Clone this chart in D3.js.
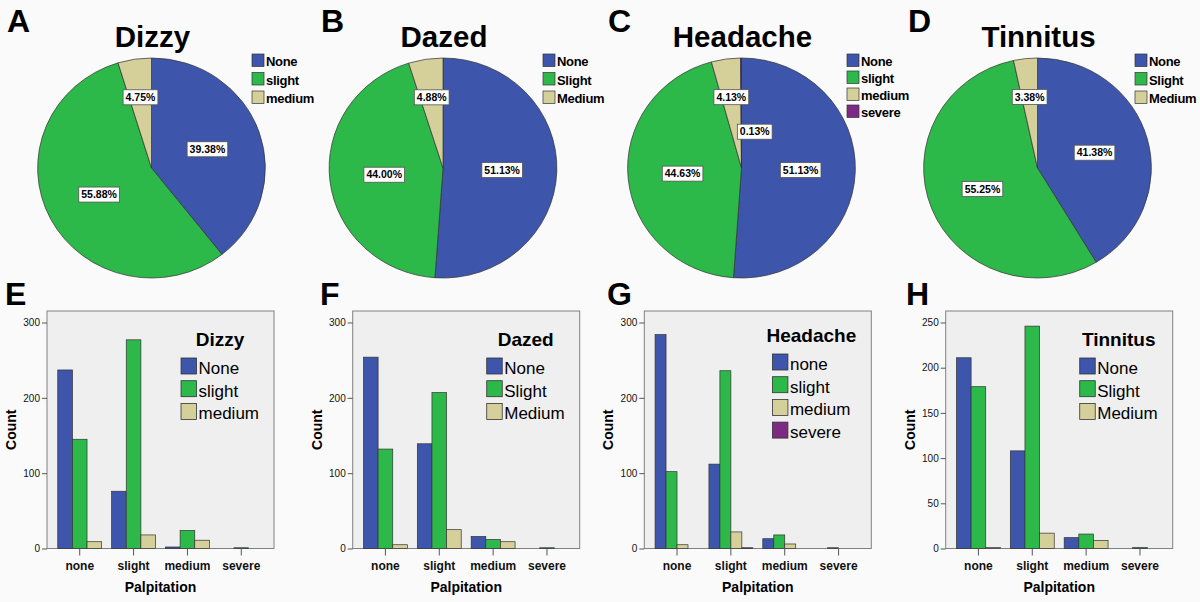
<!DOCTYPE html>
<html>
<head>
<meta charset="utf-8">
<script src="https://cdn.jsdelivr.net/npm/d3@7"></script>
<style>
  body { margin: 0; background: #fafafa; }
  text { font-family: "Liberation Sans", Arial, sans-serif; }
</style>
</head>
<body>
<script>
var W = 1200, H = 602;

// data
var symptoms = ["Dizzy", "Dazed", "Headache", "Tinnitus"];
var pieLetters = ["A", "B", "C", "D"];
var barLetters = ["E", "F", "G", "H"];
var pieNames = [
  ["None", "slight", "medium"],
  ["None", "Slight", "Medium"],
  ["None", "slight", "medium", "severe"],
  ["None", "Slight", "Medium"]
];
var barNames = [
  ["None", "slight", "medium"],
  ["None", "Slight", "Medium"],
  ["none", "slight", "medium", "severe"],
  ["None", "Slight", "Medium"]
];
var dizzyPct = [39.38, 55.88, 4.75];
var dazedPct = [51.13, 44.00, 4.88];
var headachePct = [51.13, 44.63, 4.13, 0.13];
var tinnitusPct = [41.38, 55.25, 3.38];
var piePct = [dizzyPct, dazedPct, headachePct, tinnitusPct];

var palpitation = ["none", "slight", "medium", "severe"];
// one row per symptom level, values across palpitation categories
var dizzyCounts = [[237, 76, 2, 0], [145, 277, 24, 1], [9, 18, 11, 0]];
var dazedCounts = [[254, 139, 16, 0], [132, 207, 12, 1], [5, 25, 9, 0]];
var headacheCounts = [[284, 112, 13, 0], [102, 236, 18, 1], [5, 22, 6, 0], [0, 1, 0, 0]];
var tinnitusCounts = [[211, 108, 12, 0], [179, 246, 16, 1], [1, 17, 9, 0]];
var barCounts = [dizzyCounts, dazedCounts, headacheCounts, tinnitusCounts];
var yTicks = [[0, 100, 200, 300], [0, 100, 200, 300], [0, 100, 200, 300], [0, 50, 100, 150, 200, 250]];

var colors = ["#3d56ab", "#2db84a", "#d5cf99", "#7d2a84"];

// layout
var pieCx = [151.5, 443, 741.5, 1037.5], pieCy = 168;
var pieR = 110, pieSx = 1.035;
var pieLegendX = [252, 543, 847, 1135];
var pieLetterX = [7, 321, 608, 908];
var barLetterX = [5, 320, 607, 906];
var plotLeft = [47, 352.7, 644.3, 945.7];
var plotTop = 311, plotBottom = 548.5, plotW = 227, yLen = 226;

var svg = d3.select("body").append("svg")
    .attr("width", W).attr("height", H);

svg.append("rect").attr("width", W).attr("height", H).attr("fill", "#fafafa");

var pie = d3.pie().sort(null).value(function(d) { return d; });
var arc = d3.arc().innerRadius(0).outerRadius(pieR);

symptoms.forEach(function(name, i) {
  var cx = pieCx[i];

  svg.append("text").attr("x", pieLetterX[i]).attr("y", 32)
    .attr("font-size", 32).attr("font-weight", "bold").text(pieLetters[i]);

  svg.append("text").attr("x", cx + 1).attr("y", 47)
    .attr("text-anchor", "middle").attr("font-size", 29.5).attr("font-weight", "bold")
    .text(name);

  var slices = pie(piePct[i]);
  var g = svg.append("g")
    .attr("transform", "translate(" + cx + "," + pieCy + ") scale(" + pieSx + ",1)");
  g.selectAll("path").data(slices).enter().append("path")
    .attr("d", arc)
    .attr("fill", function(d, k) { return colors[k]; })
    .attr("stroke", "#333").attr("stroke-width", 0.7);

  // percentage labels
  slices.forEach(function(s, k) {
    var pct = s.data;
    var a = (s.startAngle + s.endAngle) / 2;
    var f = pct < 1 ? 0.33 : (pct < 6 ? 0.65 : 0.52);
    var lx = cx + Math.sin(a) * f * pieR * pieSx;
    var ly = pieCy - Math.cos(a) * f * pieR;
    var lg = svg.append("g");
    var t = lg.append("text").attr("font-size", 10.5).attr("font-weight", "bold")
      .attr("text-anchor", "middle").attr("dy", "0.35em")
      .text(pct.toFixed(2) + "%");
    var bw = t.node().getComputedTextLength() + 5;
    if (pct < 1) lx += bw / 2 - 4;
    t.attr("x", lx).attr("y", ly);
    lg.insert("rect", "text")
      .attr("x", lx - bw / 2).attr("y", ly - 7.5).attr("width", bw).attr("height", 15)
      .attr("fill", "#fff").attr("stroke", "#555").attr("stroke-width", 0.8);
  });

  // pie legend
  var names = pieNames[i];
  var step = names.length > 3 ? 17 : 18.5;
  var leg = svg.append("g").attr("transform", "translate(" + pieLegendX[i] + ",54)");
  names.forEach(function(n, k) {
    leg.append("rect").attr("x", 0).attr("y", k * step).attr("width", 12).attr("height", 12.5)
      .attr("fill", colors[k]).attr("stroke", "#333").attr("stroke-width", 0.7);
    leg.append("text").attr("x", 14).attr("y", k * step + 12)
      .attr("font-size", 13).attr("font-weight", "bold")
      .attr("letter-spacing", -0.3).text(n);
  });
});

// clustered bar charts
symptoms.forEach(function(name, i) {
  var left = plotLeft[i];
  var counts = barCounts[i];
  var series = barNames[i];
  var ticks = yTicks[i];

  svg.append("text").attr("x", barLetterX[i]).attr("y", 305)
    .attr("font-size", 32).attr("font-weight", "bold").text(barLetters[i]);

  var g = svg.append("g").attr("transform", "translate(" + left + ",0)");

  g.append("rect").attr("x", 0).attr("y", plotTop)
    .attr("width", plotW).attr("height", plotBottom - plotTop)
    .attr("fill", "#efefef").attr("stroke", "#808080").attr("stroke-width", 1);

  var y = d3.scaleLinear().domain([0, d3.max(ticks)])
    .range([plotBottom, plotBottom - yLen]);
  var x = d3.scaleBand().domain(palpitation).range([0, plotW])
    .paddingInner(0.185).paddingOuter(0.2);
  var x1 = d3.scaleBand().domain(d3.range(series.length)).range([0, x.bandwidth()]);

  counts.forEach(function(row, k) {
    g.selectAll(null).data(row.map(function(v, c) { return {v: v, c: palpitation[c]}; })
        .filter(function(d) { return d.v > 0; }))
      .enter().append("rect")
      .attr("x", function(d) { return x(d.c) + x1(k); })
      .attr("y", function(d) { return y(d.v); })
      .attr("width", x1.bandwidth())
      .attr("height", function(d) { return plotBottom - y(d.v); })
      .attr("fill", colors[k]).attr("stroke", "#333").attr("stroke-width", 0.7);
  });

  var yAxis = g.append("g")
    .call(d3.axisLeft(y).tickValues(ticks).tickSize(5).tickPadding(2));
  yAxis.select(".domain").remove();
  yAxis.selectAll("line").attr("stroke", "#555");
  yAxis.selectAll("text").attr("font-size", 10).attr("fill", "#111")
    .style("font-family", "Liberation Sans, Arial, sans-serif");

  var xAxis = g.append("g").attr("transform", "translate(0," + plotBottom + ")")
    .call(d3.axisBottom(x).tickSize(7).tickPadding(6));
  xAxis.select(".domain").remove();
  xAxis.selectAll("line").attr("stroke", "#555");
  xAxis.selectAll("text").attr("font-size", 12).attr("font-weight", "bold").attr("fill", "#111")
    .style("font-family", "Liberation Sans, Arial, sans-serif");

  g.append("text").attr("x", plotW / 2).attr("y", 592)
    .attr("text-anchor", "middle").attr("font-size", 14).attr("font-weight", "bold")
    .text("Palpitation");

  g.append("text").attr("transform", "translate(-31," + ((plotTop + plotBottom) / 2) + ") rotate(-90)")
    .attr("text-anchor", "middle").attr("font-size", 14).attr("font-weight", "bold")
    .text("Count");

  // legend, centred column near the top right of the plot
  var many = series.length > 3;
  var titleY = plotTop + (many ? 31 : 35);
  var lg = g.append("g");
  var title = lg.append("text").attr("y", titleY).attr("text-anchor", "middle")
    .attr("font-size", 19).attr("font-weight", "bold").text(name);
  var items = lg.append("g");
  var maxText = 0;
  series.forEach(function(n, k) {
    var top = titleY + 12 + k * 22.7;
    items.append("rect").attr("x", 0).attr("y", top).attr("width", 15.5).attr("height", 16)
      .attr("fill", colors[k]).attr("stroke", "#333").attr("stroke-width", 0.8);
    var t = items.append("text").attr("x", 17.5).attr("y", top + 16)
      .attr("font-size", 17).text(n);
    maxText = Math.max(maxText, t.node().getComputedTextLength());
  });
  var itemsW = 17.5 + maxText;
  var titleW = title.node().getComputedTextLength();
  var colW = Math.max(itemsW, titleW);
  var colCx = plotW - 15 - colW / 2;
  title.attr("x", colCx);
  items.attr("transform", "translate(" + (colCx - itemsW / 2) + ",0)");
});
</script>
</body>
</html>
